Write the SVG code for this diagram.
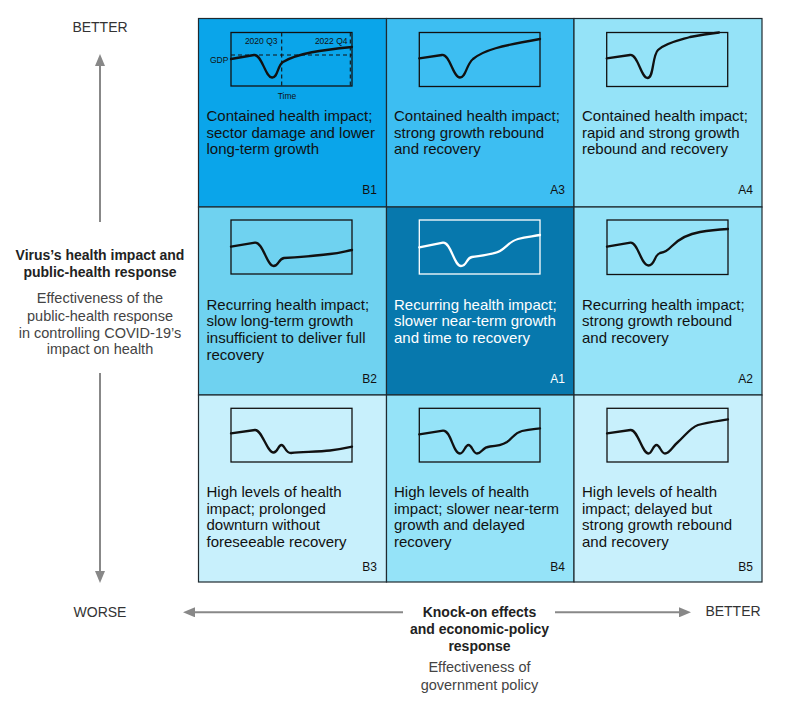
<svg xmlns="http://www.w3.org/2000/svg" width="789" height="717" viewBox="0 0 789 717">
<style>
.cell{stroke:#1f2a30;stroke-width:1.2}
.box{fill:none;stroke:#111;stroke-width:1.3}
.boxw{fill:none;stroke:#fff;stroke-width:1.3}
.ln{fill:none;stroke:#111;stroke-width:2.3;stroke-linecap:round;stroke-linejoin:round}
.lnw{fill:none;stroke:#fff;stroke-width:2.3;stroke-linecap:round;stroke-linejoin:round}
.dash{fill:none;stroke:#111;stroke-width:1.1;stroke-dasharray:4 3}
.t{font-family:"Liberation Sans",Arial,sans-serif;font-size:15px;fill:#111}
.tw{font-family:"Liberation Sans",Arial,sans-serif;font-size:15px;fill:#fff}
.lab{font-family:"Liberation Sans",Arial,sans-serif;font-size:12px;fill:#111;text-anchor:end}
.labw{font-family:"Liberation Sans",Arial,sans-serif;font-size:12px;fill:#fff;text-anchor:end}
.sm{font-family:"Liberation Sans",Arial,sans-serif;font-size:8.5px;fill:#111}
.ax{font-family:"Liberation Sans",Arial,sans-serif;font-size:14px;fill:#333;text-anchor:middle}
.axb{font-family:"Liberation Sans",Arial,sans-serif;font-size:14px;font-weight:bold;fill:#222;text-anchor:middle}
.axr{font-family:"Liberation Sans",Arial,sans-serif;font-size:14.5px;fill:#444;text-anchor:middle}
.arr{stroke:#888;stroke-width:2;fill:none}
</style>
<defs>
<marker id="ah" viewBox="0 0 12 10" refX="0" refY="5" markerWidth="12" markerHeight="10" markerUnits="userSpaceOnUse" orient="auto">
<path d="M0,0 L12,5 L0,10 Z" fill="#888"/>
</marker>
</defs>

<g id="cell-B1">
<rect class="cell" x="198.5" y="18.5" width="188" height="188.5" fill="#0aa5ea"/>
<rect class="box" x="231" y="32.5" width="121" height="53.5"/>
<line class="dash" x1="231" y1="55" x2="352" y2="55"/>
<line class="dash" x1="281.7" y1="32.5" x2="281.7" y2="86"/>
<line class="dash" x1="350.3" y1="32.5" x2="350.3" y2="86"/>
<path class="ln" d="M231,59 L254,55 C262,54 265,77 272,77.5 C278,78 277,66 283,62 C298,53 322,50 352,47"/>
<text class="sm" x="277.5" y="43.5" text-anchor="end">2020 Q3</text>
<text class="sm" x="347.5" y="43.5" text-anchor="end">2022 Q4</text>
<text class="sm" x="210" y="62.5" font-size="8">GDP</text>
<text class="sm" x="287" y="98.5" text-anchor="middle" font-size="8">Time</text>
<text class="t" x="206.5" y="121">Contained health impact;</text>
<text class="t" x="206.5" y="137.7">sector damage and lower</text>
<text class="t" x="206.5" y="154.4">long-term growth</text>
<text class="lab" x="377" y="194">B1</text>
</g>

<g id="cell-A3">
<rect class="cell" x="386.5" y="18.5" width="187.5" height="188.5" fill="#3dbef2"/>
<rect class="box" x="419.3" y="32.5" width="120.7" height="54"/>
<path class="ln" d="M419.3,58.3 L442,55 C450,54 453,77.5 460,77.5 C466,77.5 466,65 473,59 C484,50 500,46 540,39"/>
<text class="t" x="394" y="121">Contained health impact;</text>
<text class="t" x="394" y="137.7">strong growth rebound</text>
<text class="t" x="394" y="154.4">and recovery</text>
<text class="lab" x="565" y="194">A3</text>
</g>

<g id="cell-A4">
<rect class="cell" x="574" y="18.5" width="188" height="188.5" fill="#95e3f8"/>
<rect class="box" x="606.7" y="32.5" width="121" height="54"/>
<path class="ln" d="M606.7,58.3 L630,55 C638,54 641,78 647.5,78 C654,78 652,56 658,50 C665,43 680,40 690,37 C700,35 710,33.5 719,32.5"/>
<text class="t" x="582" y="121">Contained health impact;</text>
<text class="t" x="582" y="137.7">rapid and strong growth</text>
<text class="t" x="582" y="154.4">rebound and recovery</text>
<text class="lab" x="753" y="194">A4</text>
</g>

<g id="cell-B2">
<rect class="cell" x="198.5" y="207" width="188" height="188" fill="#6fd2f0"/>
<rect class="box" x="231" y="220" width="121" height="54"/>
<path class="ln" d="M231,246.7 L255,242.7 C263,242 267,266 273.5,266 C279,266 278,259 284,258 C300,257 315,256 330,254 C340,253 346,251 352,250"/>
<text class="t" x="206.5" y="309.5">Recurring health impact;</text>
<text class="t" x="206.5" y="326.2">slow long-term growth</text>
<text class="t" x="206.5" y="342.9">insufficient to deliver full</text>
<text class="t" x="206.5" y="359.6">recovery</text>
<text class="lab" x="377" y="383">B2</text>
</g>

<g id="cell-A1">
<rect class="cell" x="386.5" y="207" width="187.5" height="188" fill="#0778ad"/>
<rect class="boxw" x="419.3" y="220" width="120.7" height="54"/>
<path class="lnw" d="M419.3,247.3 L443,242.7 C451,242 454,266 461,266 C467,266 466,258 472,257 C485,255 495,254 500,251 C508,246 510,241 518,239 C526,237 532,236.5 540,235"/>
<text class="tw" x="394" y="309.5">Recurring health impact;</text>
<text class="tw" x="394" y="326.2">slower near-term growth</text>
<text class="tw" x="394" y="342.9">and time to recovery</text>
<text class="labw" x="565" y="383">A1</text>
</g>

<g id="cell-A2">
<rect class="cell" x="574" y="207" width="188" height="188" fill="#95e3f8"/>
<rect class="box" x="607" y="220" width="121" height="54.5"/>
<path class="ln" d="M607,246.7 L630.5,242.7 C638,242 641,265.5 648.5,265.5 C655,265.5 654,255 660,253 C665,252 667,251 672,246 C680,238 688,234 700,232 C712,230 720,229.5 728,229"/>
<text class="t" x="582" y="309.5">Recurring health impact;</text>
<text class="t" x="582" y="326.2">strong growth rebound</text>
<text class="t" x="582" y="342.9">and recovery</text>
<text class="lab" x="753" y="383">A2</text>
</g>

<g id="cell-B3">
<rect class="cell" x="198.5" y="395" width="188" height="187" fill="#c8f0fc"/>
<rect class="box" x="231" y="408.3" width="121" height="53.7"/>
<path class="ln" d="M231,433.3 L255,430 C262,429.5 267,452.5 273.5,452.5 C278,452.5 278,445 281.5,445 C285,445 285,453 291,453 C305,452 320,451.5 330,450.5 C340,449.5 346,448 352,446.7"/>
<text class="t" x="206.5" y="497">High levels of health</text>
<text class="t" x="206.5" y="513.7">impact; prolonged</text>
<text class="t" x="206.5" y="530.4">downturn without</text>
<text class="t" x="206.5" y="547.1">foreseeable recovery</text>
<text class="lab" x="377" y="570.5">B3</text>
</g>

<g id="cell-B4">
<rect class="cell" x="386.5" y="395" width="187.5" height="187" fill="#95e3f8"/>
<rect class="box" x="419.3" y="408.3" width="120.7" height="53.7"/>
<path class="ln" d="M419.3,434.3 L443,430.7 C451,430 453,453.5 460,453.5 C464,453.5 465,445 468.5,445 C472,445 473,453.5 477,453.5 C482,453.5 482,447 490,446.5 C498,446 502,445 507,442 C513,438 514,433 522,431 C530,429 535,429 540,428.3"/>
<text class="t" x="394" y="497">High levels of health</text>
<text class="t" x="394" y="513.7">impact; slower near-term</text>
<text class="t" x="394" y="530.4">growth and delayed</text>
<text class="t" x="394" y="547.1">recovery</text>
<text class="lab" x="565" y="570.5">B4</text>
</g>

<g id="cell-B5">
<rect class="cell" x="574" y="395" width="188" height="187" fill="#c8f0fc"/>
<rect class="box" x="607" y="408.3" width="121" height="53.7"/>
<path class="ln" d="M607,433.3 L630.5,430 C638,429.5 642,453.5 648.5,453.5 C652,453.5 653,445 656.5,445 C660,445 661,453.5 665,453.5 C670,453.5 672,447 678,442 C685,436 690,428 698,425 C708,422 718,421 728,419.3"/>
<text class="t" x="582" y="497">High levels of health</text>
<text class="t" x="582" y="513.7">impact; delayed but</text>
<text class="t" x="582" y="530.4">strong growth rebound</text>
<text class="t" x="582" y="547.1">and recovery</text>
<text class="lab" x="753" y="570.5">B5</text>
</g>

<g id="axis-vertical">
<text class="ax" x="100" y="31.5">BETTER</text>
<text class="axb" x="100" y="260">Virus’s health impact and</text>
<text class="axb" x="100" y="276.5">public-health response</text>
<text class="axr" x="100" y="302.5">Effectiveness of the</text>
<text class="axr" x="100" y="320.5">public-health response</text>
<text class="axr" x="100" y="337.5">in controlling COVID-19’s</text>
<text class="axr" x="100" y="353.5">impact on health</text>
<text class="ax" x="100" y="617">WORSE</text>
</g>

<g id="axis-horizontal">
<text class="axb" x="479.5" y="617">Knock-on effects</text>
<text class="axb" x="479.5" y="634">and economic-policy</text>
<text class="axb" x="479.5" y="650.5">response</text>
<text class="axr" x="479.5" y="672">Effectiveness of</text>
<text class="axr" x="479.5" y="689.5">government policy</text>
<text class="ax" x="733" y="615.5">BETTER</text>
</g>

<g id="connectors">
<line class="arr" x1="100" y1="222" x2="100" y2="66" marker-end="url(#ah)"/>
<line class="arr" x1="100" y1="373" x2="100" y2="571" marker-end="url(#ah)"/>
<line class="arr" x1="403" y1="612.3" x2="195" y2="612.3" marker-end="url(#ah)"/>
<line class="arr" x1="555" y1="612.3" x2="679" y2="612.3" marker-end="url(#ah)"/>
</g>
</svg>
